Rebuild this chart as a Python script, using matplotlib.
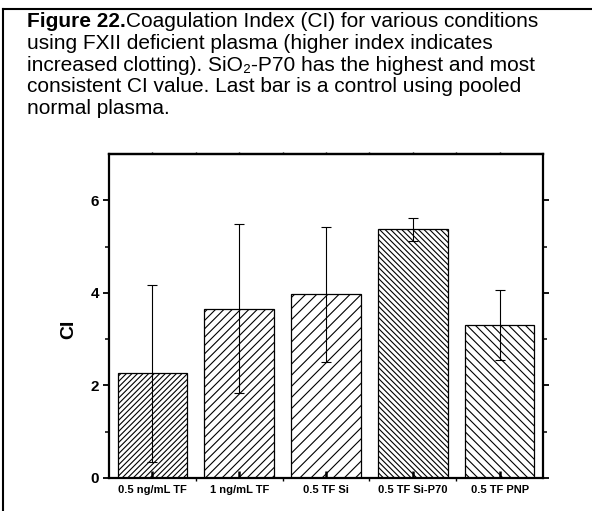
import matplotlib.pyplot as plt
from matplotlib.lines import Line2D

plt.rcParams['font.family'] = ['Liberation Sans', 'DejaVu Sans']
plt.rcParams['hatch.linewidth'] = 0.8

# data
conditions = ['0.5 ng/mL TF', '1 ng/mL TF', '0.5 TF Si', '0.5 TF Si-P70', '0.5 TF PNP']
ci = [2.26, 3.66, 3.97, 5.37, 3.30]
ci_err = [1.92, 1.82, 1.46, 0.25, 0.76]
hatches = ['//////', '////', '///', '\\\\\\\\\\\\', '\\\\\\\\']

caption = [
    'using FXII deficient plasma (higher index indicates',
    'increased clotting). SiO\u2082-P70 has the highest and most',
    'consistent CI value. Last bar is a control using pooled',
    'normal plasma.',
]

fig = plt.figure(figsize=(5.92, 5.11), dpi=100)
ax = fig.add_axes([0.1841, 0.0646, 0.7331, 0.634])

x = list(range(len(conditions)))
bars = ax.bar(x, ci, width=0.8, color='white', edgecolor='black', linewidth=0.9,
              yerr=ci_err, capsize=3.5,
              error_kw=dict(elinewidth=0.8, capthick=0.8, ecolor='black'))
for b, h in zip(bars, hatches):
    b.set_hatch(h)

ax.set_xlim(-0.5, len(conditions) - 0.5)
ax.set_ylim(0, 7)
ax.set_xticks(x)
ax.set_xticklabels(conditions, fontsize=8, fontweight='bold')
ax.set_xticks([i + 0.5 for i in x[:-1]], minor=True)
ax.set_yticks([0, 2, 4, 6])
ax.set_yticks([1, 3, 5], minor=True)
ax.set_yticklabels(['0', '2', '4', '6'], fontsize=11, fontweight='bold')
ax.set_ylabel('CI', fontsize=14, fontweight='bold')
ax.yaxis.set_label_coords(-0.072, 0.46)

ax.tick_params(axis='x', which='major', direction='in', length=5, width=1.8, pad=5)
ax.tick_params(axis='x', which='minor', direction='out', length=2, width=1)
ax.tick_params(axis='y', which='major', direction='out', length=4, width=1.3,
               right=True, pad=3)
ax.tick_params(axis='y', which='minor', direction='out', length=3, width=1.1,
               right=True)
for s in ax.spines.values():
    s.set_linewidth(1.6)

top = ax.secondary_xaxis('top')
top.set_xticks([i * 0.5 for i in range(2 * len(conditions) - 1)])
top.set_xticklabels([])
top.tick_params(direction='out', length=1.5, width=1)
top.spines['top'].set_linewidth(1.6)

# caption
x0 = 27 / 592
base = [27.0, 48.8, 70.6, 92.4, 114.0]
fs = 15
t1 = fig.text(x0, 1 - base[0] / 511, 'Figure 22.', fontsize=fs,
              fontweight='bold', va='baseline', ha='left')
ax.annotate('Coagulation Index (CI) for various conditions', xy=(1, 0),
            xycoords=t1, va='bottom', ha='left', fontsize=fs,
            annotation_clip=False)
for line, b in zip(caption, base[1:]):
    fig.text(x0, 1 - b / 511, line, fontsize=fs, va='baseline', ha='left')

# box round the caption / figure
fig.add_artist(Line2D([3 / 592, 3 / 592], [0, 1 - 9 / 511],
                      transform=fig.transFigure, color='black', lw=1.5))
fig.add_artist(Line2D([3 / 592, 1], [1 - 9 / 511, 1 - 9 / 511],
                      transform=fig.transFigure, color='black', lw=1.5))

fig.savefig('out.png', dpi=100)
